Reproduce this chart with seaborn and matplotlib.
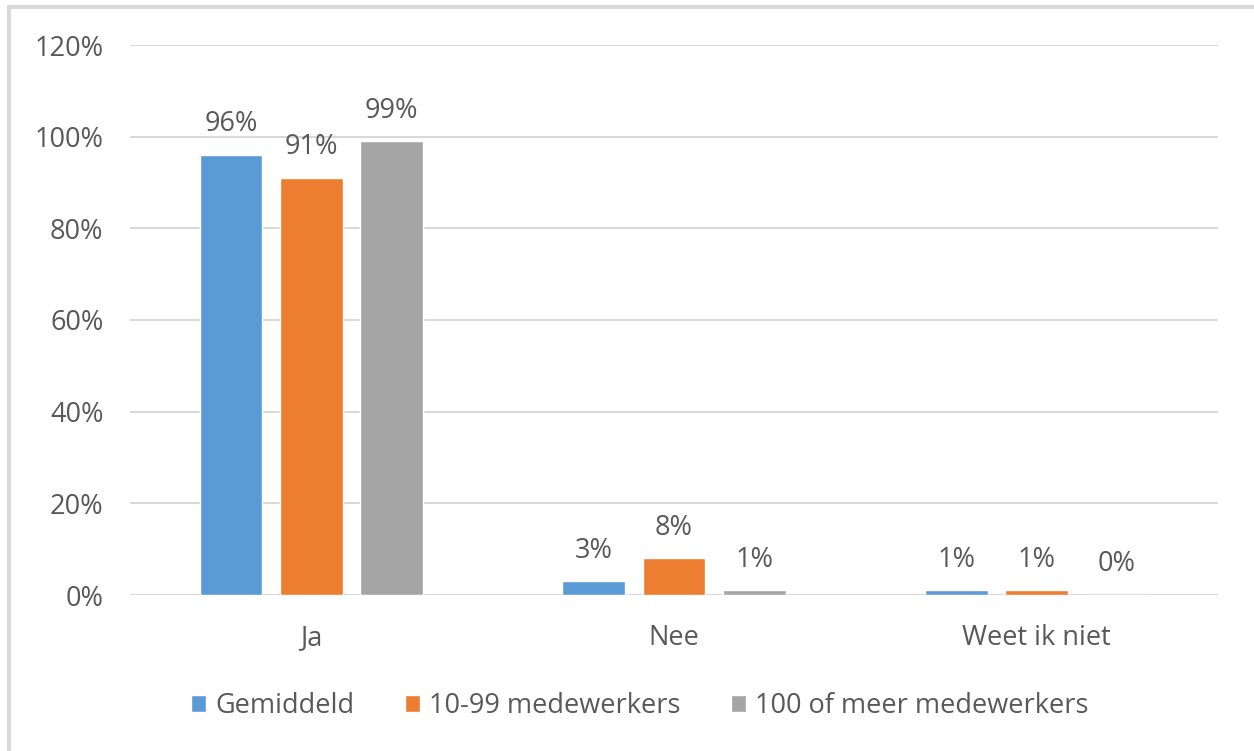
import pandas as pd
import matplotlib
matplotlib.use("Agg")
import matplotlib.pyplot as plt
from matplotlib.lines import Line2D
import seaborn as sns

categories = ["Ja", "Nee", "Weet ik niet"]
series = ["Gemiddeld", "10-99 medewerkers", "100 of meer medewerkers"]
gemiddeld = [96, 3, 1]
klein = [91, 8, 1]
groot = [99, 1, 0]
y_ticks = [0, 20, 40, 60, 80, 100, 120]
colors = ["#5B9BD5", "#ED7D31", "#A5A5A5"]

rows = []
for name, vals in zip(series, [gemiddeld, klein, groot]):
    for cat, v in zip(categories, vals):
        rows.append({"categorie": cat, "groep": name, "waarde": v})
df = pd.DataFrame(rows)

sns.set_theme(style="white")
plt.rcParams["font.family"] = ["Open Sans", "DejaVu Sans"]
text_color = "#595959"
grid_color = "#D9D9D9"
fs = 19.5

fig = plt.figure(figsize=(12.54, 7.51), dpi=100)
ax = fig.add_axes([130 / 1254, 1 - 595 / 751, 1088 / 1254, 550 / 751])

sns.barplot(data=df, x="categorie", y="waarde", hue="groep", order=categories,
            hue_order=series, palette=colors, width=0.665, gap=0.22,
            saturation=1, ax=ax, legend=True)

for cont in ax.containers:
    ax.bar_label(cont, labels=[f"{v:.0f}%" for v in cont.datavalues],
                 padding=12, fontsize=fs, color=text_color)

ax.set_xlim(-0.5, 2.5)
ax.set_ylim(0, 120)
ax.set_yticks(y_ticks)
ax.set_yticklabels([f"{t}%" for t in y_ticks])
ax.yaxis.grid(True, color=grid_color, linewidth=1.5)
ax.set_axisbelow(True)
for side in ["top", "right", "left", "bottom"]:
    ax.spines[side].set_visible(False)
ax.axhline(0, color=grid_color, linewidth=1.5, zorder=0)
ax.tick_params(axis="both", length=0, labelsize=fs, colors=text_color)
ax.tick_params(axis="x", pad=21)
ax.tick_params(axis="y", pad=19)
ax.set_xlabel("")
ax.set_ylabel("")

handles, labels = ax.get_legend_handles_labels()
ax.get_legend().remove()
fig.legend(handles, labels, loc="center", bbox_to_anchor=(640 / 1254, 1 - 706 / 751),
           ncol=3, frameon=False, fontsize=fs, labelcolor=text_color,
           handlelength=0.55, handleheight=0.55, handletextpad=0.35, columnspacing=1.85)

# light chart-area border (left and top edges visible)
fig.add_artist(Line2D([9 / 1254, 9 / 1254], [0, 1 - 7 / 751], color=grid_color, linewidth=3))
fig.add_artist(Line2D([9 / 1254, 1], [1 - 7 / 751, 1 - 7 / 751], color=grid_color, linewidth=3))

fig.savefig("out.png", dpi=100)
